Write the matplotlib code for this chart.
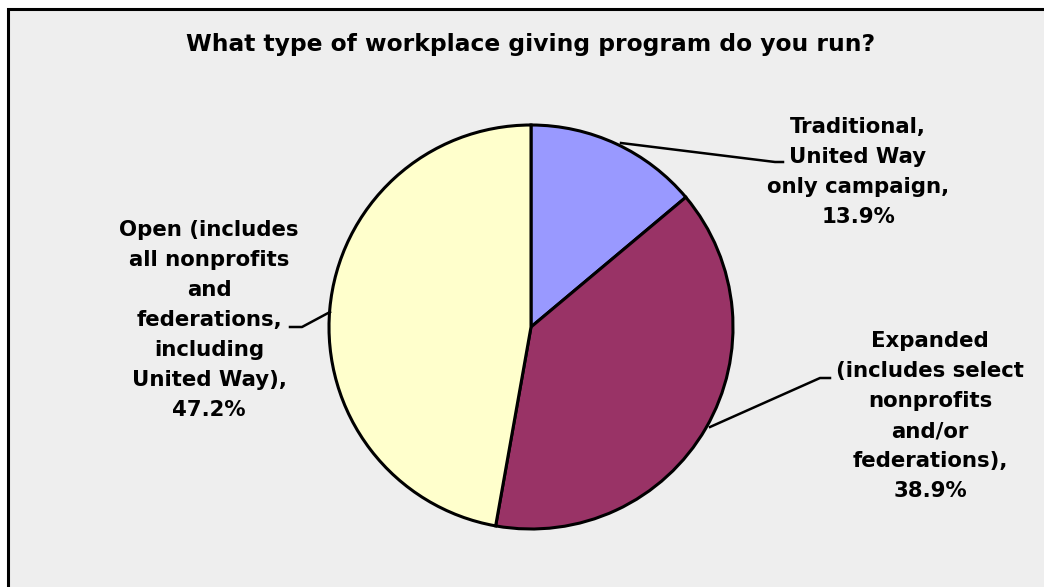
import matplotlib
matplotlib.use("Agg")
import matplotlib.pyplot as plt
from matplotlib.lines import Line2D
from matplotlib.patches import Rectangle

title = "What type of workplace giving program do you run?"
categories = [
    "Traditional,\nUnited Way\nonly campaign,",
    "Expanded\n(includes select\nnonprofits\nand/or\nfederations),",
    "Open (includes\nall nonprofits\nand\nfederations,\nincluding\nUnited Way),",
]
values = [13.9, 38.9, 47.2]
colors = ["#9999FF", "#993366", "#FFFFCC"]

W, H = 1044, 587
fig = plt.figure(figsize=(W / 100, H / 100), dpi=100)
fig.patch.set_facecolor("white")
ax = fig.add_axes([0, 0, 1, 1])

def Y(y):
    return H - y

cx, cy, r = 531, 327, 202
wedges, _ = ax.pie(values, colors=colors, startangle=90, counterclock=False,
                   center=(cx, Y(cy)), radius=r, frame=True,
                   wedgeprops=dict(edgecolor="black", linewidth=2.2))
ax.set_xlim(0, W)
ax.set_ylim(0, H)
ax.set_aspect("equal")
ax.axis("off")

# chart area background + frame (left and top visible)
ax.add_patch(Rectangle((8, Y(H + 20)), W + 20, H + 20 - 9, facecolor="#EEEEEE",
                       edgecolor="black", linewidth=2.2, zorder=0))

ax.text(531, Y(45), title, ha="center", va="center", fontsize=16.8,
        fontweight="bold", family="DejaVu Sans")

fs = 15.3
label_pos = [(858, 172), (930, 416), (209, 320)]
leaders = [
    [(621, 143), (775, 162), (783, 162)],
    [(710, 427), (820, 378), (830, 378)],
    [(330, 312), (302, 327), (290, 327)],
]
for cat, v, (lx, ly), pts in zip(categories, values, label_pos, leaders):
    ax.text(lx, Y(ly), f"{cat}\n{v:.1f}%", ha="center", va="center",
            fontsize=fs, fontweight="bold", family="DejaVu Sans",
            linespacing=1.63)
    xs = [p[0] for p in pts]
    ys = [Y(p[1]) for p in pts]
    ax.add_line(Line2D(xs, ys, color="black", linewidth=1.8))

fig.savefig("out.png", dpi=100, facecolor=fig.get_facecolor())
